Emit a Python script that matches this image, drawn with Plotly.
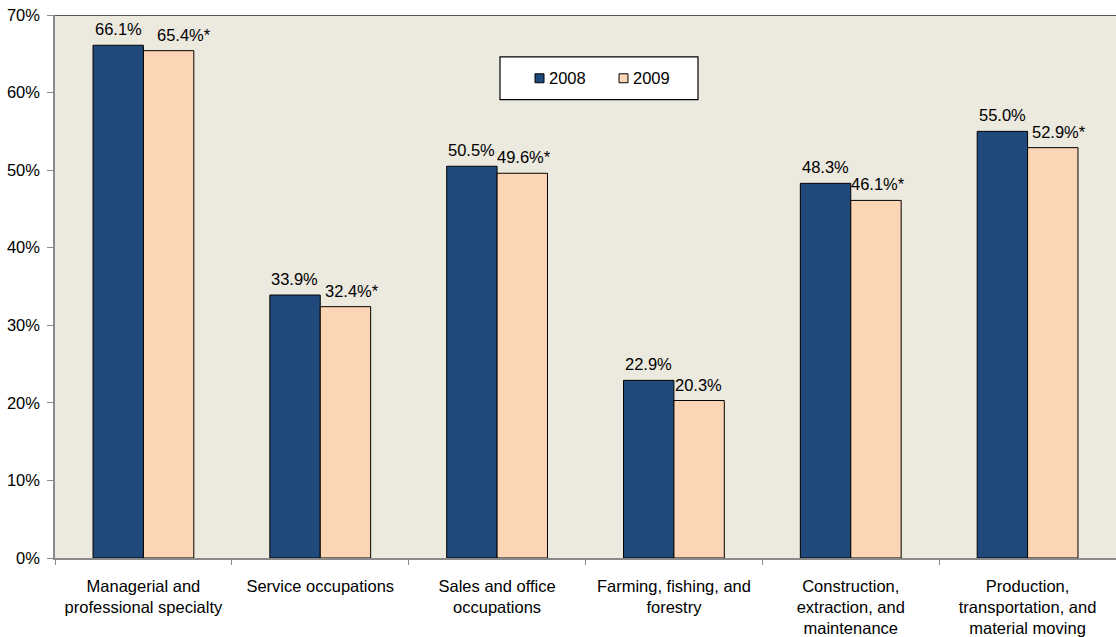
import plotly.graph_objects as go

categories = [
    "Managerial and<br>professional specialty",
    "Service occupations",
    "Sales and office<br>occupations",
    "Farming, fishing, and<br>forestry",
    "Construction,<br>extraction, and<br>maintenance",
    "Production,<br>transportation, and<br>material moving",
]
years = ["2008", "2009"]
values_2008 = [66.1, 33.9, 50.5, 22.9, 48.3, 55.0]
values_2009 = [65.4, 32.4, 49.6, 20.3, 46.1, 52.9]
signif_2009 = [True, True, True, False, True, True]

colors = ["#204A7B", "#FCD5B5"]
FONT = "Liberation Sans, Arial, Helvetica, sans-serif"
FS = 16.5

# plot-area geometry in pixels (used to place the hand-drawn legend)
W, H = 1116, 637
ML, MR, MT, MB = 55, 0, 15, 77
PW, PH = W - ML - MR, H - MT - MB


def px_x(x):
    return (x - ML) / PW


def px_y(y):
    return 1 - (y - MT) / PH


fig = go.Figure()
for name, vals, col in zip(years, [values_2008, values_2009], colors):
    fig.add_trace(go.Bar(
        name=name, x=categories, y=vals,
        marker=dict(color=col, line=dict(color="#000000", width=1)),
        showlegend=False,
    ))

# value labels above each bar (horizontal nudges for the 2009 labels)
bar_px = 25.3
nudge_2009 = [15, 6, 2, -1, 2, 6]
for i, cat in enumerate(categories):
    for j, vals in enumerate([values_2008, values_2009]):
        v = vals[i]
        txt = f"{v:.1f}%"
        shift = -bar_px
        if j == 1:
            shift = bar_px + nudge_2009[i]
            if signif_2009[i]:
                txt += "*"
        fig.add_annotation(
            x=cat, y=v, text=txt, showarrow=False,
            xshift=shift, yanchor="bottom", yshift=5,
            font=dict(size=FS, color="#000000", family=FONT),
        )

# dark frame line along the top of the plot area
fig.add_shape(type="line", xref="paper", yref="y", x0=0, x1=1, y0=70, y1=70,
              line=dict(color="#555555", width=2))

# legend box
fig.add_shape(type="rect", xref="paper", yref="paper",
              x0=px_x(500), x1=px_x(698), y0=px_y(100), y1=px_y(57),
              fillcolor="#FFFFFF", line=dict(color="#000000", width=1.2))
for name, col, sx in zip(years, colors, [535, 619]):
    fig.add_shape(type="rect", xref="paper", yref="paper",
                  x0=px_x(sx), x1=px_x(sx + 9), y0=px_y(83), y1=px_y(74),
                  fillcolor=col, line=dict(color="#000000", width=1))
    fig.add_annotation(xref="paper", yref="paper", x=px_x(sx + 12), y=px_y(78.5),
                       text=name, showarrow=False, xanchor="left", yanchor="middle",
                       font=dict(size=FS, color="#000000", family=FONT))

fig.update_layout(
    width=W, height=H,
    margin=dict(l=ML, r=MR, t=MT, b=MB),
    paper_bgcolor="#FFFFFF",
    plot_bgcolor="#ECE9DF",
    barmode="group",
    bargap=0.43,
    bargroupgap=0,
    font=dict(family=FONT, size=FS, color="#000000"),
    showlegend=False,
    xaxis=dict(
        type="category", showline=True, linecolor="#8A8A8A", linewidth=1.5,
        ticks="outside", tickson="boundaries", ticklen=5, tickcolor="#8A8A8A",
        showgrid=False, ticklabelstandoff=12,
        tickfont=dict(size=FS, family=FONT, color="#000000"),
    ),
    yaxis=dict(
        range=[0, 70], dtick=10, ticksuffix="%", showgrid=False,
        showline=True, linecolor="#8A8A8A", linewidth=1.5,
        ticks="outside", ticklen=6, tickcolor="#8A8A8A",
        ticklabelstandoff=4,
        tickfont=dict(size=FS, family=FONT, color="#000000"),
        zeroline=False,
    ),
)

fig.write_html("out.html")
